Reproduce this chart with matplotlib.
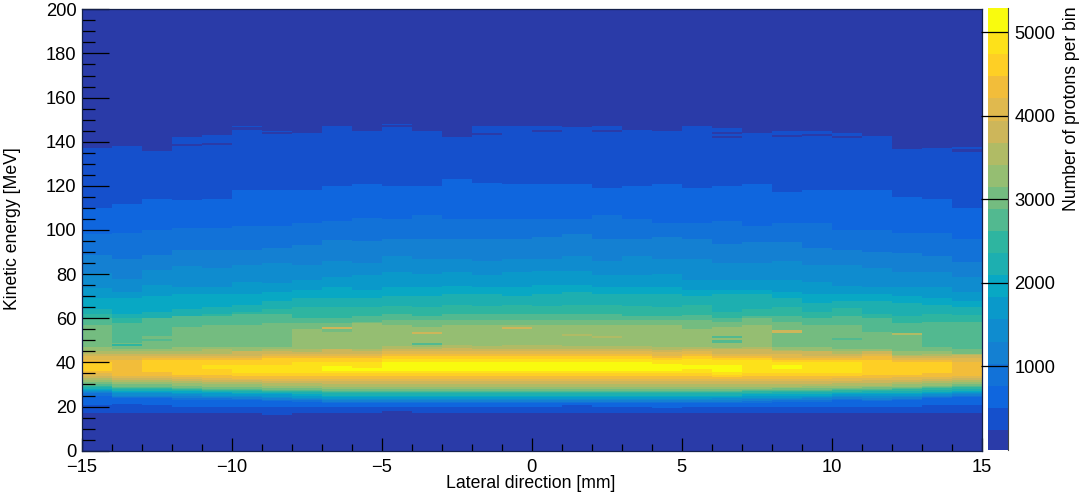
import numpy as np
import matplotlib
matplotlib.use('Agg')
import matplotlib.pyplot as plt
from matplotlib.colors import ListedColormap, BoundaryNorm
from matplotlib.ticker import MultipleLocator

plt.rcParams['font.family'] = ['Liberation Sans', 'DejaVu Sans']

lateral_edges = list(range(-15, 16))
z_max = 5290
z_ticks = [1000, 2000, 3000, 4000, 5000]

# palette, bottom to top of the colour bar
band_colors = ['#2a3ba8', '#1550cc', '#0f66de', '#1272d8', '#1480d2',
               '#0f8ccf', '#0a99ca', '#08a8c4', '#1dafb0', '#2eb5a0',
               '#52b990', '#74bc80', '#95be72', '#b0bb65', '#cdb65a',
               '#e0b94e', '#f2bd3a', '#fecf25', '#fde11a', '#f9fb0e']

# energy (MeV) at which each colour band starts / ends, one value per 1 mm column
lo_02 = [17,17,17,17,17,17,16,17,17,17, 18,17,17,17,17,17,17,17,17,17, 17,17,17,17,17,17,17,17,17,17]
lo_03 = [20.5,21,20.5,20,20,20,20,20,20,20, 20,20,20,20,20,20,20.5,20,20,19.5, 20,20,20,20,20,20,20,20,20.5,20.5]
lo_04 = [25,24,24,23,23,23,22.5,22,21.5,21.5, 21.5,21.5,21.5,21.5,21.5,21.5,21.5,21.5,21.5,21.5, 21.5,21.5,21.5,22,22,23,22.5,23,24,24.5]
lo_05 = [26,24.5,24.5,24,24,23.5,23,23,22,22, 22,22,22,22,22,22,22,22,22,22, 22,22,22.5,23,23,23.5,23,23.5,24.5,25]
lo_06 = [26.5,25,25,25,24.5,24.5,24,23.5,23,23, 23,23,23,23,23,23,23,23,23,23, 23,23,23.5,23.5,24,24.5,24,24.5,25,25.5]
lo_07 = [27,26,26,25.5,25,25,24.5,24,23.5,23.5, 23.5,23.5,23.5,23.5,23.5,23.5,23.5,23.5,23.5,23.5, 23.5,24,24,24,24.5,25,25,25,25.5,26]
lo_08 = [27.5,26.5,26.5,26,26,25.5,25.5,25,24.5,24.5, 24.5,24.5,24.5,24.5,24.5,24.5,24.5,24.5,24.5,24.5, 24.5,24.5,25,25,25,25.5,25.5,25.5,26,26.5]
lo_09 = [28,27,27,27,26.5,26,26,25.5,25,25, 25,25,25,25,25,25,25,25,25,25, 25,25,25.5,25.5,25.5,26,26,26,26.5,27]
lo_10 = [29,28,28,27.5,27,27,26.5,26.5,26,26, 26,26,26,26,26,26,26,26,26,26, 26,26,26,26.5,26.5,26.5,27,27,27.5,28]
lo_11 = [29.5,28.5,28.5,28,27.5,27.5,27,27,26.5,26.5, 26.5,26.5,26.5,26.5,26.5,26.5,26.5,26.5,26.5,26.5, 26.5,26.5,27,27,27,27.5,27.5,28,28.5,29]
lo_12 = [30,29,29,28.5,28,28,27.5,27.5,27,27, 27,27,27,27,27,27,27,27,27,27, 27,27,27.5,27.5,27.5,28,28,28.5,29,29.5]
lo_13 = [31,30,30,29.5,29,29,28.5,28.5,28,28, 28,28,28,28,28,28,28,28,28,28, 28,28,28,28.5,28.5,28.5,29,29,29.5,30]
lo_14 = [32,31,31,30.5,30,30,29.5,29.5,29,29, 29,29,29,29,29,29,29,29,29,29, 29,29,29,29,29.5,29.5,29.5,30,30.5,31]
lo_15 = [33,32,32,31.5,31,31,30.5,30.5,30,30, 30,30,30,30,30,30,30,30,30,30, 30,30,30,30,30,30.5,30.5,31,31.5,32]
lo_16 = [34,33,33,32.5,32,32,31.5,31.5,31.5,31.5, 31.5,31.5,31.5,31.5,31.5,31.5,31.5,31.5,31.5,31.5, 31.5,31.5,31.5,31.5,31.5,31.5,32,32,32.5,33]
lo_17 = [35,34,34,33.5,33,32.5,32.5,32.5,32.5,32.5, 32.5,32.5,32.5,32.5,32.5,32.5,32.5,32.5,32.5,32.5, 32.5,32.5,32.5,32.5,32.5,33,33,33.5,33.5,34]
lo_18 = [36,0,35.5,34.5,34.5,34,34,34,34,34, 34,34,34,34,34,34,34,34,34,34, 34,33.5,34,34,34,34,34.5,34.5,35,0]
lo_19 = [0,0,0,0,37,35,35,35,35,35, 35,35,35,35,35,35,35,35,35,35, 35,34.5,35,35,35,35,0,0,0,0]
lo_20 = [0,0,0,0,0,0,0,0,36,36, 36,36,36,36,36,36,36,36,36,36, 37,35.5,0,37,0,0,0,0,0,0]

hi_02 = [137,139,136,142,143,147,145,144,147,145, 148,145,143,147,148,147,146.5,147,145.5,145, 147,146,144,145,145,144,143.5,137.5,137,137.5]
hi_03 = [110,112,114,113.5,114,118,118,118,120,121, 120,120,123,121.5,121,121,121,119,120,121, 119,120,121,117,118,118,118,115,114,110]
hi_04 = [98,98.5,100,101,101,102,102,103,104,105.5, 105,107,105,105,105,105,105,107,105,103, 103,104,102,103,103,100,100,98.5,98.5,96]
hi_05 = [88.5,87,88.5,91,91,91,92,93,95.5,95, 96,96,96,96,96,97,98,96,96,97, 96,93.5,94.5,94.5,92,91,90,89.5,88,85.5]
hi_06 = [80.5,78,82,83.5,83,84,85,84,86,85, 88,87,87,86,87,87,88,86,88,87, 87,85,85,86,84,84,83,81,81,78.5]
hi_07 = [73.5,72,75,74,74,76.5,76,77.5,78.5,79.5, 81,80,81,79.5,81,81.5,81.5,79.5,79.5,80, 77.5,77.5,77.5,77.5,76.5,74.5,74,74,74,72]
hi_08 = [69,69,70,71,71,71,72,73,74,73, 74,74,74.5,74,74,75,75,74,74,74, 73,73,73,72,71,71,71,70,69,68]
hi_09 = [64,62,63,64,65,66,68,69,69,69, 70,70,71,71,70,71,72,71,71,71, 70,71,71,69,67,68,68,67,66,65]
hi_10 = [62,60,60,61,62,63,64,65,65,65, 65.5,65,66,65.5,66,65.5,66,66,65.5,65, 66,63,64,65,63,64.5,62,61,62,61.5]
hi_11 = [60,58,60,61,61,62,62,60,60,61, 62,61,62,62,62,62,62,62,61,61, 61.5,60,61,61,60,61,60,58,58.5,58.5]
hi_12 = [57,49,52,56,57,57,58,58,58,58.5, 59,59,59,59,59,59,59,59,59,59, 59,58.5,60,58.5,57,57,54,52.5,47,46]
hi_13 = [47,46,46,47,47,47,47,55,54,58, 57,56,57,57,57,57,57,57,57,57, 55,56,57,47,47,46,45,45,45,44]
hi_14 = [45,45,45,45,46,45,46,46,46,46, 47.5,47,48,47.5,48,48,47.5,47.5,47.5,47, 47,46.5,47,45.5,45,45,45,43.5,44,44]
hi_15 = [44,44,44,44,44,45,45,44.5,46,45, 46,46,46.5,46,46,46,46,46,46,45.5, 46,46,46,45,45,44,46,43,43,43.5]
hi_16 = [43,43,43,43,43,43,44,44,44,44, 45,45,45,45,45,45,45,45,45,44.5, 45,44,44,44,43,43,44,42,42,42]
hi_17 = [41,41,42,42,42,42,43,43,43,43, 44,44,44,44,44,44,44,44,44,43, 44,43,43,42,42,42,43,41,41,40]
hi_18 = [40,0,41,41,41,41,42,42,42,42, 43,43,43,43,43,43,43,43,43,42, 43,42,42,41,41,41,41,40,40,0]
hi_19 = [0,0,0,0,39,39,39,40,40,40, 41.5,41.5,41.5,41.5,41.5,41.5,41.5,41.5,41.5,41, 41.5,41,41,40,40,40,0,0,0,0]
hi_20 = [0,0,0,0,0,0,0,0,38.5,37.5, 40,40,40,40,40,40,40,40,40,39.5, 39,39,0,39,0,0,0,0,0,0]

# single bins that stick out of their neighbours: column, energy, band
stripe_col = [0,1,3,4,5,6,10,12,13,14,15,16,17,21,21,23,24,25,26,27,29,
              11,14,16,17,11,1,2,8,23,27,21,21,25]
stripe_e = [139,138.5,138.5,139,146,144,147,142.5,143.5,147.5,145,147,145,144,142,142.5,143,142,143,137,136,
            53.5,55.5,52.5,51.5,48.5,48,50,55.5,54,53,51.5,49.5,50.5]
stripe_band = [1,1,1,1,1,1,1,1,1,1,1,1,1,1,1,1,1,1,1,1,1,
               15,15,14,14,11,10,11,15,15,14,11,11,11]

lows = [lo_02,lo_03,lo_04,lo_05,lo_06,lo_07,lo_08,lo_09,lo_10,lo_11,
        lo_12,lo_13,lo_14,lo_15,lo_16,lo_17,lo_18,lo_19,lo_20]
highs = [hi_02,hi_03,hi_04,hi_05,hi_06,hi_07,hi_08,hi_09,hi_10,hi_11,
         hi_12,hi_13,hi_14,hi_15,hi_16,hi_17,hi_18,hi_19,hi_20]

energy_edges = np.arange(0, 200.5, 0.5)
energy_mid = energy_edges[:-1] + 0.25

# band number of every cell
band = np.ones((len(energy_mid), len(lateral_edges) - 1))
for lo, hi in zip(lows, highs):
    lo = np.array(lo)[None, :]
    hi = np.array(hi)[None, :]
    band += (energy_mid[:, None] >= lo) & (energy_mid[:, None] < hi)
for c, e, b in zip(stripe_col, stripe_e, stripe_band):
    band[np.abs(energy_mid - e) < 0.5, c] = b

z_step = z_max / len(band_colors)
protons = (band - 0.5) * z_step

cmap = ListedColormap(band_colors)
norm = BoundaryNorm(np.linspace(0, z_max, len(band_colors) + 1), cmap.N)

W, H = 1084, 495
fig = plt.figure(figsize=(W / 100, H / 100), dpi=100)
ax = fig.add_axes([82 / W, 1 - 450.7 / H, (981.5 - 82) / W, (450.7 - 9.3) / H])
cax = fig.add_axes([987.5 / W, 1 - 450 / H, 20 / W, 442 / H])

mesh = ax.pcolormesh(lateral_edges, energy_edges, protons, cmap=cmap, norm=norm,
                     rasterized=True, antialiased=False)
ax.set_xlim(-15, 15)
ax.set_ylim(0, 200)

ax.xaxis.set_major_locator(MultipleLocator(5))
ax.xaxis.set_minor_locator(MultipleLocator(1))
ax.yaxis.set_major_locator(MultipleLocator(20))
ax.yaxis.set_minor_locator(MultipleLocator(5))
ax.tick_params(axis='x', which='major', direction='in', length=9.5, width=0.9, labelsize=13.2, pad=6)
ax.tick_params(axis='x', which='minor', direction='in', length=4.7, width=0.9)
ax.tick_params(axis='y', which='major', direction='in', length=19.5, width=0.9, labelsize=13.2, pad=4)
ax.tick_params(axis='y', which='minor', direction='in', length=9.7, width=0.9)
for side in ax.spines.values():
    side.set_linewidth(0.9)
    side.set_color('#14204a')

fig.text(531 / W, 1 - 484 / H, 'Lateral direction [mm]', ha='center', va='center', fontsize=12.7)
fig.text(12.5 / W, 1 - 229 / H, 'Kinetic energy [MeV]', ha='center', va='center',
         rotation=90, fontsize=12.7)

cb = fig.colorbar(mesh, cax=cax, spacing='proportional', ticks=z_ticks)
cb.solids.set_edgecolor('face')
cb.outline.set_visible(False)
cax.spines['right'].set_visible(True)
cax.spines['right'].set_linewidth(0.8)
cax.spines['right'].set_color('#444444')
cax.minorticks_off()
cax.tick_params(axis='y', direction='in', length=19.8, width=0.9, labelsize=13.2, pad=5, right=True)
fig.text(1071 / W, 1 - 6 / H, 'Number of protons per bin', ha='center', va='top',
         rotation=90, fontsize=12.7)

fig.savefig('out.png', dpi=100)
